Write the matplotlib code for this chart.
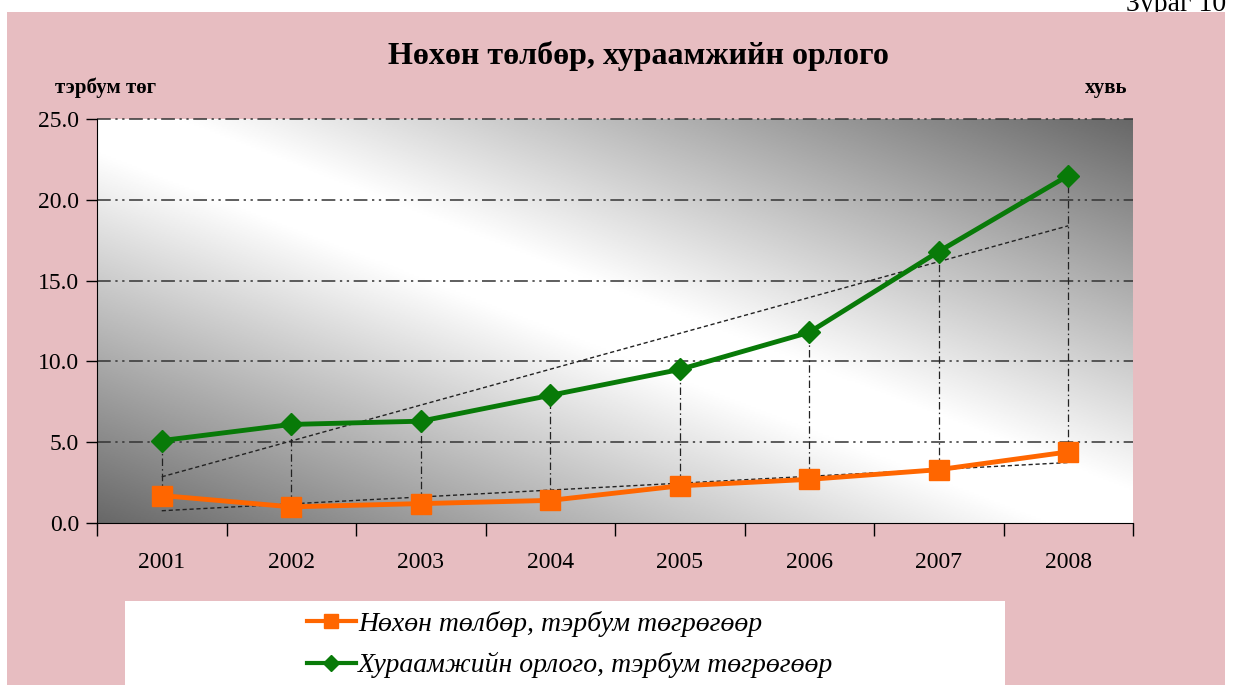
import numpy as np
import matplotlib
matplotlib.use("Agg")
import matplotlib.pyplot as plt
from matplotlib.colors import LinearSegmentedColormap
from matplotlib.lines import Line2D
from matplotlib.patches import Rectangle

plt.rcParams['font.family'] = ['Liberation Serif', 'DejaVu Serif']

years = ['2001', '2002', '2003', '2004', '2005', '2006', '2007', '2008']
nokhon = [1.7, 1.0, 1.2, 1.4, 2.3, 2.7, 3.3, 4.4]        # тэрбум төгрөг
khuraamj = [5.1, 6.1, 6.3, 7.9, 9.5, 11.8, 16.8, 21.5]  # тэрбум төгрөг
yticks = [0, 5, 10, 15, 20, 25]

title = 'Нөхөн төлбөр, хураамжийн орлого'
label1 = 'Нөхөн төлбөр, тэрбум төгрөгөөр'
label2 = 'Хураамжийн орлого, тэрбум төгрөгөөр'

W, H = 1233, 685
fig = plt.figure(figsize=(W / 100, H / 100), dpi=100, facecolor='white')

# pink paper background
fig.patches.append(Rectangle((7 / W, 0), (1225 - 7) / W, (H - 12) / H,
                             transform=fig.transFigure, facecolor='#e7bdc1',
                             edgecolor='none', zorder=-2))
fig.text(1126 / W, 1 - 11 / H, 'Зураг 10', fontsize=20, va='baseline',
         ha='left', zorder=-3)

ax = fig.add_axes([97 / W, 1 - 523 / H, (1133 - 97) / W, (523 - 119) / H])
ax.set_facecolor('none')
x = np.arange(len(years))
ax.set_xlim(-0.5, len(years) - 0.5)
ax.set_ylim(0, 25)

# diagonal gradient of the plot area
gx, gy = np.meshgrid(np.linspace(0, 1, 400), np.linspace(0, 1, 200))
g = np.clip((np.abs(gx + gy - 1.0) - 0.08) / 0.92, 0, 1)
cmap = LinearSegmentedColormap.from_list('g', ['#ffffff', '#686868'], N=256)
ax.imshow(g, extent=(-0.5, len(years) - 0.5, 0, 25), origin='lower',
          cmap=cmap, aspect='auto', zorder=0, vmin=0, vmax=1)

# gridlines
for yv in yticks[1:]:
    ax.axhline(yv, color='#333333', lw=1.1, ls=(0, (9, 3, 1.5, 3, 1.5, 3)), zorder=1,
               clip_on=False)

# high-low lines
for i in x:
    ax.plot([i, i], [nokhon[i], khuraamj[i]], color='#222222', lw=0.9,
            ls=(0, (6, 2.5, 1.2, 2.5)), zorder=2)

# linear trend lines
for ser in (nokhon, khuraamj):
    k, b = np.polyfit(x, ser, 1)
    ax.plot(x[[0, -1]], k * x[[0, -1]] + b, color='#222222', lw=1.0,
            ls=(0, (3, 2)), zorder=3)

ax.plot(x, nokhon, color='#ff6600', lw=3.5, marker='s', ms=15, mec='#ff6600', zorder=4)
ax.plot(x, khuraamj, color='#087a08', lw=3.5, marker='D', ms=11, mec='#087a08', zorder=5)

for s in ['top', 'right']:
    ax.spines[s].set_visible(False)
ax.spines['left'].set_color('black')
ax.spines['bottom'].set_color('black')

ax.set_yticks(yticks)
ax.set_yticklabels(['%.1f' % v for v in yticks], fontsize=17)
ax.tick_params(axis='y', direction='out', length=8, width=1, pad=5)
ax.set_xticks(x)
ax.set_xticklabels(years, fontsize=17)
ax.tick_params(axis='x', length=0, pad=21)
ax.set_xticks(np.arange(-0.5, len(years)), minor=True)
ax.tick_params(axis='x', which='minor', direction='out', length=9, width=1)

fig.text(638 / W, 1 - 56 / H, title, fontsize=23, fontweight='bold',
         ha='center', va='center')
fig.text(55 / W, 1 - 88 / H, 'тэрбум төг', fontsize=15, fontweight='bold',
         ha='left', va='center')
fig.text(1127 / W, 1 - 88 / H, 'хувь', fontsize=15, fontweight='bold',
         ha='right', va='center')

# legend box
fig.patches.append(Rectangle((125 / W, 0), (1005 - 125) / W, (H - 601) / H,
                             transform=fig.transFigure, facecolor='white',
                             edgecolor='none', zorder=1))
handles = [Line2D([], [], color='#ff6600', lw=3, marker='s', ms=10),
           Line2D([], [], color='#087a08', lw=3, marker='D', ms=8)]
leg = fig.legend(handles, [label1, label2], loc='upper left',
                 bbox_to_anchor=(307 / W, 1 - 611 / H), frameon=False,
                 prop={'family': 'Liberation Serif', 'style': 'italic', 'size': 20},
                 handlelength=1.75, handletextpad=0.08, labelspacing=0.55,
                 borderpad=0, borderaxespad=0)
leg.set_zorder(2)

fig.savefig('out.png', dpi=100, facecolor='white')
